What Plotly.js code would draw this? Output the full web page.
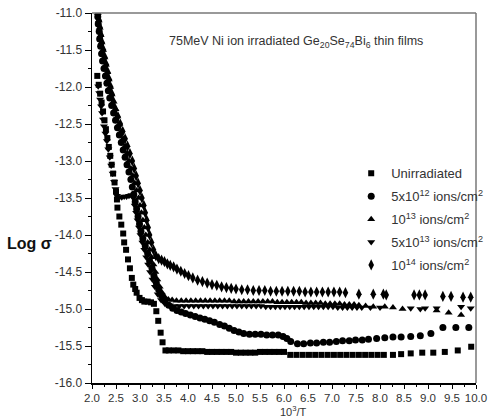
<!DOCTYPE html>
<html>
<head>
<meta charset="utf-8">
<script src="https://cdn.plot.ly/plotly-3.0.1.min.js"></script>
<style>html,body{margin:0;padding:0;background:#fff;}#chart{width:500px;height:420px;}</style>
</head>
<body>
<div id="chart"></div>
<script>
// ---- series names ----
const seriesNames = [
  'Unirradiated',
  '5x10<sup>12</sup> ions/cm<sup>2</sup>',
  '10<sup>13</sup> ions/cm<sup>2</sup>',
  '5x10<sup>13</sup> ions/cm<sup>2</sup>',
  '10<sup>14</sup> ions/cm<sup>2</sup>'
];

// ---- Unirradiated (squares) ----
const unirrX = [2.11,2.14,2.17,2.2,2.23,2.26,2.29,2.32,2.35,2.38,2.41,2.44,2.47,2.5,2.52,2.53,2.57,2.61,2.65,2.67,2.71,2.75,2.79,2.83,2.86,2.9,2.93,2.99,3.04,3.09,3.16,3.23,3.29,3.34,3.38,3.43,3.47,3.53,3.6,3.7,3.8,3.9,4.0,4.1,4.2,4.3,4.4,4.5,4.6,4.7,4.8,4.9,5.0,5.1,5.2,5.3,5.4,5.5,5.6,5.7,5.8,5.9,6.0,6.13,6.26,6.39,6.52,6.65,6.78,6.91,7.04,7.17,7.3,7.43,7.56,7.69,7.82,7.95,8.08,8.27,8.44,8.64,8.88,9.11,9.35,9.62,9.9];
const unirrY = [-11.85,-11.97,-12.09,-12.21,-12.33,-12.45,-12.57,-12.69,-12.81,-12.93,-13.05,-13.17,-13.29,-13.41,-13.52,-13.63,-13.75,-13.86,-13.98,-14.1,-14.2,-14.33,-14.45,-14.58,-14.67,-14.73,-14.78,-14.85,-14.88,-14.9,-14.9,-14.91,-14.93,-15.03,-15.16,-15.32,-15.45,-15.56,-15.56,-15.56,-15.56,-15.57,-15.57,-15.57,-15.57,-15.57,-15.58,-15.58,-15.58,-15.58,-15.58,-15.58,-15.59,-15.59,-15.59,-15.59,-15.59,-15.58,-15.58,-15.58,-15.58,-15.58,-15.58,-15.62,-15.62,-15.62,-15.62,-15.62,-15.62,-15.62,-15.62,-15.62,-15.62,-15.62,-15.62,-15.62,-15.62,-15.62,-15.62,-15.62,-15.61,-15.6,-15.59,-15.59,-15.58,-15.56,-15.51];

// ---- 5x10^12 ions/cm2 (circles) ----
const d5e12X = [2.12,2.13,2.15,2.16,2.18,2.2,2.22,2.25,2.28,2.31,2.34,2.37,2.41,2.45,2.49,2.53,2.57,2.61,2.65,2.69,2.73,2.77,2.81,2.84,2.87,2.9,2.93,2.96,2.99,3.02,3.06,3.11,3.16,3.2,3.25,3.29,3.34,3.39,3.45,3.52,3.6,3.68,3.77,3.86,3.95,4.05,4.15,4.25,4.35,4.45,4.55,4.66,4.76,4.86,4.96,5.06,5.16,5.28,5.4,5.52,5.64,5.76,5.88,5.98,6.06,6.14,6.28,6.41,6.55,6.68,6.82,6.95,7.09,7.22,7.36,7.49,7.63,7.76,7.93,8.1,8.27,8.44,8.64,8.84,9.06,9.31,9.58,9.85];
const d5e12Y = [-11.05,-11.15,-11.25,-11.35,-11.45,-11.55,-11.65,-11.75,-11.85,-11.95,-12.05,-12.15,-12.25,-12.35,-12.45,-12.55,-12.65,-12.75,-12.85,-12.95,-13.05,-13.15,-13.25,-13.35,-13.45,-13.55,-13.65,-13.75,-13.85,-13.95,-14.05,-14.15,-14.25,-14.35,-14.45,-14.55,-14.65,-14.74,-14.82,-14.89,-14.95,-14.99,-15.02,-15.04,-15.06,-15.08,-15.1,-15.12,-15.14,-15.16,-15.18,-15.21,-15.23,-15.26,-15.29,-15.31,-15.33,-15.34,-15.34,-15.34,-15.35,-15.35,-15.35,-15.37,-15.4,-15.44,-15.47,-15.47,-15.46,-15.46,-15.45,-15.45,-15.44,-15.43,-15.43,-15.42,-15.42,-15.41,-15.4,-15.39,-15.38,-15.38,-15.37,-15.36,-15.33,-15.25,-15.25,-15.25];

// ---- 10^13 ions/cm2 (up triangles) ----
const d1e13X = [2.12,2.14,2.16,2.18,2.2,2.23,2.26,2.29,2.32,2.35,2.38,2.41,2.45,2.49,2.53,2.57,2.61,2.65,2.69,2.73,2.77,2.81,2.85,2.89,2.93,2.97,3.0,3.03,3.06,3.09,3.12,3.16,3.2,3.24,3.28,3.32,3.36,3.41,3.46,3.52,3.59,3.67,3.76,3.86,3.96,4.06,4.16,4.26,4.36,4.46,4.56,4.66,4.76,4.86,4.96,5.06,5.16,5.26,5.36,5.46,5.56,5.66,5.76,5.86,5.96,6.06,6.16,6.26,6.36,6.46,6.56,6.66,6.76,6.86,6.96,7.06,7.16,7.26,7.36,7.46,7.56,7.7,7.86,8.1,8.27,8.47,9.18,9.43,9.69];
const d1e13Y = [-11.0,-11.1,-11.2,-11.3,-11.4,-11.5,-11.6,-11.7,-11.8,-11.9,-12.0,-12.1,-12.2,-12.3,-12.4,-12.5,-12.6,-12.7,-12.8,-12.9,-13.0,-13.1,-13.2,-13.3,-13.4,-13.5,-13.6,-13.7,-13.8,-13.9,-14.0,-14.1,-14.2,-14.3,-14.4,-14.5,-14.6,-14.7,-14.78,-14.84,-14.87,-14.88,-14.89,-14.89,-14.89,-14.89,-14.89,-14.89,-14.89,-14.89,-14.89,-14.89,-14.89,-14.89,-14.9,-14.9,-14.9,-14.9,-14.9,-14.9,-14.9,-14.9,-14.9,-14.91,-14.91,-14.91,-14.91,-14.91,-14.91,-14.92,-14.92,-14.92,-14.92,-14.93,-14.93,-14.93,-14.93,-14.94,-14.94,-14.94,-14.95,-14.96,-14.97,-14.97,-14.98,-15.0,-15.02,-15.05,-15.08];

// ---- 5x10^13 ions/cm2 (down triangles) ----
const d5e13X = [2.13,2.15,2.17,2.19,2.21,2.23,2.25,2.28,2.31,2.34,2.37,2.4,2.43,2.46,2.49,2.52,2.57,2.62,2.67,2.72,2.77,2.82,2.86,2.89,2.92,2.95,2.98,3.01,3.05,3.09,3.13,3.17,3.21,3.26,3.31,3.37,3.44,3.52,3.62,3.72,3.82,3.92,4.02,4.12,4.22,4.32,4.42,4.52,4.62,4.72,4.82,4.92,5.02,5.12,5.22,5.32,5.42,5.52,5.62,5.72,5.82,5.92,6.02,6.12,6.22,6.32,6.42,6.52,6.62,6.72,6.82,6.92,7.02,7.12,7.22,7.32,7.42,7.52,7.62,7.8,8.0,8.64,8.84,8.94,9.18,9.69,9.89];
const d5e13Y = [-11.99,-12.08,-12.17,-12.26,-12.35,-12.44,-12.53,-12.63,-12.73,-12.84,-12.95,-13.06,-13.17,-13.28,-13.38,-13.47,-13.49,-13.49,-13.48,-13.48,-13.47,-13.46,-13.5,-13.6,-13.7,-13.8,-13.9,-14.0,-14.1,-14.2,-14.3,-14.4,-14.5,-14.6,-14.7,-14.8,-14.88,-14.93,-14.95,-14.96,-14.96,-14.96,-14.96,-14.96,-14.96,-14.96,-14.96,-14.96,-14.96,-14.96,-14.96,-14.96,-14.96,-14.96,-14.96,-14.96,-14.96,-14.96,-14.97,-14.97,-14.97,-14.97,-14.97,-14.97,-14.97,-14.97,-14.97,-14.97,-14.97,-14.97,-14.97,-14.97,-14.97,-14.98,-14.98,-14.98,-14.98,-14.98,-14.98,-14.98,-14.98,-14.99,-15.0,-14.99,-14.99,-14.97,-14.99];

// ---- 10^14 ions/cm2 (diamonds) ----
const d1e14X = [2.13,2.15,2.17,2.19,2.21,2.24,2.27,2.3,2.33,2.36,2.39,2.42,2.45,2.49,2.54,2.59,2.64,2.69,2.74,2.79,2.84,2.88,2.92,2.96,3.0,3.04,3.08,3.11,3.14,3.17,3.2,3.24,3.28,3.33,3.39,3.45,3.51,3.57,3.63,3.7,3.77,3.85,3.93,4.01,4.1,4.2,4.3,4.4,4.5,4.6,4.7,4.8,4.9,5.0,5.12,5.24,5.36,5.48,5.6,5.72,5.84,5.96,6.08,6.2,6.32,6.44,6.56,6.68,6.8,6.92,7.04,7.16,7.28,7.56,7.86,8.07,8.13,8.71,8.82,8.94,9.31,9.48,9.73,9.89];
const d1e14Y = [-11.02,-11.1,-11.2,-11.3,-11.4,-11.5,-11.6,-11.7,-11.8,-11.9,-12.0,-12.1,-12.2,-12.3,-12.4,-12.5,-12.6,-12.7,-12.8,-12.9,-13.0,-13.1,-13.2,-13.3,-13.4,-13.5,-13.6,-13.7,-13.8,-13.9,-14.0,-14.1,-14.2,-14.28,-14.32,-14.34,-14.36,-14.39,-14.41,-14.43,-14.46,-14.49,-14.52,-14.55,-14.58,-14.61,-14.63,-14.65,-14.67,-14.68,-14.7,-14.71,-14.72,-14.73,-14.74,-14.74,-14.75,-14.75,-14.75,-14.76,-14.76,-14.76,-14.76,-14.76,-14.76,-14.77,-14.77,-14.77,-14.77,-14.77,-14.77,-14.77,-14.78,-14.8,-14.8,-14.8,-14.81,-14.81,-14.81,-14.81,-14.83,-14.83,-14.84,-14.84];

// ---- tick labels ----
const xTickVals = [2,2.5,3,3.5,4,4.5,5,5.5,6,6.5,7,7.5,8,8.5,9,9.5,10];
const xTickText = ['2.0','2.5','3.0','3.5','4.0','4.5','5.0','5.5','6.0','6.5','7.0','7.5','8.0','8.5','9.0','9.5','10.0'];
const yTickVals = [-16,-15.5,-15,-14.5,-14,-13.5,-13,-12.5,-12,-11.5,-11];
const yTickText = ['-16.0','-15.5','-15.0','-14.5','-14.0','-13.5','-13.0','-12.5','-12.0','-11.5','-11.0'];

const font = '"Liberation Sans", Arial, sans-serif';

const xs = [unirrX, d5e12X, d1e13X, d5e13X, d1e14X];
const ys = [unirrY, d5e12Y, d1e13Y, d5e13Y, d1e14Y];
const symbols = ['square', 'circle', 'triangle-up', 'triangle-down', 'diamond-tall'];
const sizes = [6, 7, 7, 7, 8];

const traces = xs.map((x, i) => ({
  type: 'scatter', mode: 'markers',
  x: x, y: ys[i], name: seriesNames[i], legendgroup: 'g' + i,
  marker: {symbol: symbols[i], size: sizes[i], color: '#000', line: {width: 0}},
  hoverinfo: 'skip'
}));

const layout = {
  width: 500, height: 420,
  margin: {l: 92, r: 13, t: 13, b: 37},
  paper_bgcolor: '#fff', plot_bgcolor: '#fff',
  showlegend: true,
  legend: {
    x: 0.675, y: 0.607, xanchor: 'left', yanchor: 'top',
    bgcolor: 'rgba(0,0,0,0)', borderwidth: 0,
    font: {family: font, size: 13, color: '#333'},
    traceorder: 'grouped', tracegroupgap: 3, itemwidth: 30
  },
  xaxis: {
    range: [2, 10], tickmode: 'array', tickvals: xTickVals, ticktext: xTickText, tickangle: 0,
    ticks: 'outside', ticklen: 4, tickwidth: 1, tickcolor: '#000',
    showline: true, linecolor: '#000', linewidth: 1.5, showgrid: false, zeroline: false,
    tickfont: {family: font, size: 11.5, color: '#333'},
    minor: {tickmode: 'linear', tick0: 2, dtick: 0.25, ticks: 'outside', ticklen: 2, tickcolor: '#000', showgrid: false}
  },
  yaxis: {
    range: [-16, -11], tickmode: 'array', tickvals: yTickVals, ticktext: yTickText,
    ticks: 'outside', ticklen: 6, tickwidth: 1, tickcolor: '#000',
    showline: true, linecolor: '#000', linewidth: 1.5, showgrid: false, zeroline: false,
    tickfont: {family: font, size: 12, color: '#333'},
    minor: {tickmode: 'linear', tick0: -16, dtick: 0.25, ticks: 'outside', ticklen: 3, tickcolor: '#000', showgrid: false}
  },
  shapes: [
    {type: 'line', xref: 'paper', yref: 'paper', x0: 0, x1: 1, y0: 1, y1: 1, line: {color: '#777', width: 1.5}},
    {type: 'line', xref: 'paper', yref: 'paper', x0: 1, x1: 1, y0: 0, y1: 1, line: {color: '#777', width: 1.5}}
  ],
  annotations: [
    {text: '75MeV Ni ion irradiated Ge<sub>20</sub>Se<sub>74</sub>Bi<sub>6</sub> thin films',
     xref: 'paper', yref: 'paper', x: 0.53, y: 0.922, xanchor: 'center', yanchor: 'middle',
     showarrow: false, font: {family: font, size: 12.5, color: '#333'}},
    {text: '<b>Log σ</b>', xref: 'paper', yref: 'paper', x: -0.1, y: 0.378, xanchor: 'right', yanchor: 'middle',
     showarrow: false, font: {family: font, size: 16, color: '#111'}},
    {text: '10<sup>3</sup>/T', xref: 'paper', yref: 'paper', x: 0.524, y: -0.0995, xanchor: 'center', yanchor: 'bottom',
     showarrow: false, font: {family: font, size: 11, color: '#333'}}
  ]
};

Plotly.newPlot('chart', traces, layout, {displayModeBar: false, staticPlot: true});
</script>
</body>
</html>
